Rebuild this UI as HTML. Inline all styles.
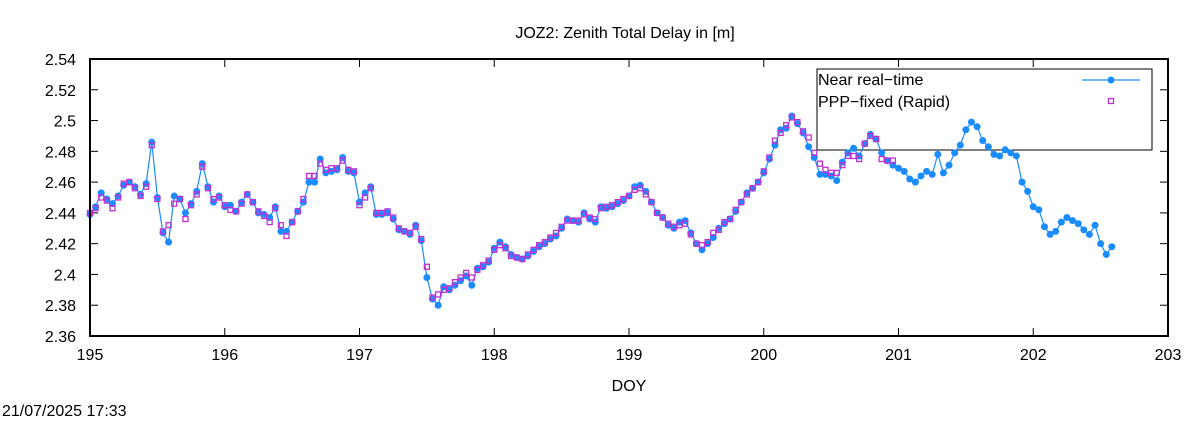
<!DOCTYPE html>
<html><head><meta charset="utf-8"><style>
body{margin:0;background:#fff;width:1200px;height:420px;overflow:hidden;font-family:"Liberation Sans",sans-serif}
svg text{font-family:"Liberation Sans",sans-serif;fill:#000}
</style></head><body>
<svg id="chart" width="1200" height="420" xmlns="http://www.w3.org/2000/svg">
<text x="625" y="38" font-size="16" text-anchor="middle">JOZ2: Zenith Total Delay in [m]</text>
<g id="axes"></g>
<g>
<rect x="817" y="69" width="335" height="81" fill="none" stroke="#000" stroke-width="1"/>
<text x="818" y="85" font-size="16">Near real−time</text>
<text x="818" y="107" font-size="16">PPP−fixed (Rapid)</text>
<line x1="1082" y1="80" x2="1140" y2="80" stroke="#1a8cff" stroke-width="1.2"/>
<circle cx="1111" cy="80" r="3.5" fill="#1a8cff"/>
<rect x="1108.5" y="98.5" width="5" height="5" fill="none" stroke="#c030d0" stroke-width="1.3"/>
</g>
<g id="series"></g>
<rect x="90" y="59" width="1078" height="277" fill="none" stroke="#000" stroke-width="2"/>
<text x="629" y="391" font-size="16" text-anchor="middle">DOY</text>
<text x="2" y="416" font-size="16">21/07/2025 17:33</text>
</svg>
<script>
const xTicks=[195,196,197,198,199,200,201,202,203];
const yTicks=[2.36,2.38,2.40,2.42,2.44,2.46,2.48,2.50,2.52,2.54];
const yTickLabels=["2.36","2.38","2.4","2.42","2.44","2.46","2.48","2.5","2.52","2.54"];
const startDoy=195.0;
const stepDays=1/24;
const nrt=[2.439,2.444,2.453,2.449,2.446,2.451,2.458,2.460,2.457,2.452,2.459,2.486,2.450,2.427,2.421,2.451,2.449,2.440,2.446,2.454,2.472,2.457,2.447,
2.451,2.444,2.445,2.441,2.447,2.452,2.447,2.440,2.439,2.437,2.444,2.428,2.428,2.434,2.441,2.447,2.460,2.460,2.475,2.466,2.467,2.468,
2.476,2.467,2.466,2.447,2.453,2.457,2.439,2.439,2.440,2.436,2.429,2.428,2.426,2.432,2.422,2.398,2.384,2.380,2.392,2.390,2.393,2.396,2.399,2.393,
2.404,2.405,2.408,2.417,2.421,2.418,2.413,2.411,2.410,2.412,2.415,2.418,2.420,2.423,2.425,2.430,2.436,2.435,2.434,2.440,2.436,2.434,2.444,
2.443,2.444,2.446,2.448,2.451,2.457,2.458,2.454,2.447,2.440,2.437,2.432,2.430,2.434,2.435,2.427,2.420,2.416,2.420,2.424,2.430,2.433,2.436,
2.441,2.447,2.453,2.456,2.460,2.466,2.475,2.484,2.494,2.495,2.503,
2.498,2.492,2.483,2.476,2.465,2.465,2.464,2.461,2.473,2.479,2.482,2.477,2.485,2.491,2.488,2.479,2.474,2.471,2.469,2.467,
2.462,2.460,2.464,2.467,2.465,2.478,2.466,2.471,2.479,2.484,2.494,2.499,2.496,2.487,2.483,2.478,2.477,2.481,2.479,2.477,
2.460,2.454,2.444,2.442,2.431,2.426,2.428,2.434,2.437,2.435,2.433,2.429,2.426,2.432,2.420,2.413,2.418];
const ppp=[2.440,2.443,2.450,2.448,2.443,2.450,2.459,2.460,2.456,2.451,2.457,2.484,2.449,2.428,2.432,2.446,2.449,2.436,2.445,2.452,2.470,2.456,2.449,
2.450,2.445,2.442,2.441,2.446,2.452,2.447,2.441,2.438,2.434,2.443,2.432,2.425,2.434,2.441,2.449,2.464,2.464,2.472,2.468,2.469,2.469,
2.474,2.468,2.467,2.445,2.450,2.456,2.440,2.440,2.441,2.437,2.430,2.428,2.427,2.431,2.423,2.405,2.385,2.387,2.390,2.391,2.395,2.398,2.401,2.398,
2.403,2.406,2.409,2.416,2.419,2.417,2.412,2.411,2.410,2.413,2.416,2.419,2.421,2.424,2.427,2.431,2.435,2.435,2.435,2.439,2.437,2.436,2.443,
2.444,2.445,2.447,2.449,2.451,2.455,2.456,2.452,2.447,2.440,2.437,2.433,2.431,2.432,2.433,2.426,2.420,2.419,2.421,2.427,2.429,2.434,2.436,
2.442,2.447,2.452,2.456,2.460,2.467,2.476,2.487,2.492,2.497,2.502,
2.499,2.493,2.489,2.479,2.472,2.468,2.466,2.466,2.471,2.477,2.477,2.475,2.485,2.490,2.488,2.475,2.474,2.474];
const X0=90,X1=1168,Y0=336,Y1=59,XMIN=195,XMAX=203,YMIN=2.36,YMAX=2.54;
const xs=v=>X0+(v-XMIN)/(XMAX-XMIN)*(X1-X0);
const ys=v=>Y0-(v-YMIN)/(YMAX-YMIN)*(Y0-Y1);
const NS="http://www.w3.org/2000/svg";
function mk(tag,attrs,parent){const e=document.createElementNS(NS,tag);for(const k in attrs)e.setAttribute(k,attrs[k]);parent.appendChild(e);return e;}
const axes=document.getElementById('axes'),series=document.getElementById('series');
xTicks.forEach(t=>{const x=xs(t);
 let l=mk('line',{x1:x,y1:Y0,x2:x,y2:Y0-8,stroke:'#000','stroke-width':1},axes);
 
 
 let l2=mk('line',{x1:x,y1:Y1,x2:x,y2:Y1+8,stroke:'#000','stroke-width':1},axes);
 
 
 let tx=mk('text',{x:x,y:Y0+24,'font-size':16,'text-anchor':'middle'},axes);tx.textContent=String(t);
 
 
});
yTicks.forEach((t,i)=>{const y=ys(t);
 let l=mk('line',{x1:X0,y1:y,x2:X0+8,y2:y,stroke:'#000','stroke-width':1},axes);
 
 
 let l2=mk('line',{x1:X1,y1:y,x2:X1-8,y2:y,stroke:'#000','stroke-width':1},axes);
 
 
 let tx=mk('text',{x:X0-14,y:y+6,'font-size':16,'text-anchor':'end'},axes);tx.textContent=yTickLabels[i];
 
 
});
const pts=nrt.map((v,i)=>xs(startDoy+i*stepDays).toFixed(1)+','+ys(v).toFixed(1)).join(' ');
const pl=mk('polyline',{points:pts,fill:'none',stroke:'#1a8cff','stroke-width':1.2},series);


nrt.forEach((v,i)=>{const c=mk('circle',{cx:xs(startDoy+i*stepDays),cy:ys(v),r:3.5,fill:'#1a8cff'},series);
 
 });
ppp.forEach((v,i)=>{const r=mk('rect',{x:xs(startDoy+i*stepDays)-2.5,y:ys(v)-2.5,width:5,height:5,fill:'none',stroke:'#c030d0','stroke-width':1.3},series);
 
 });
</script>
</body></html>
